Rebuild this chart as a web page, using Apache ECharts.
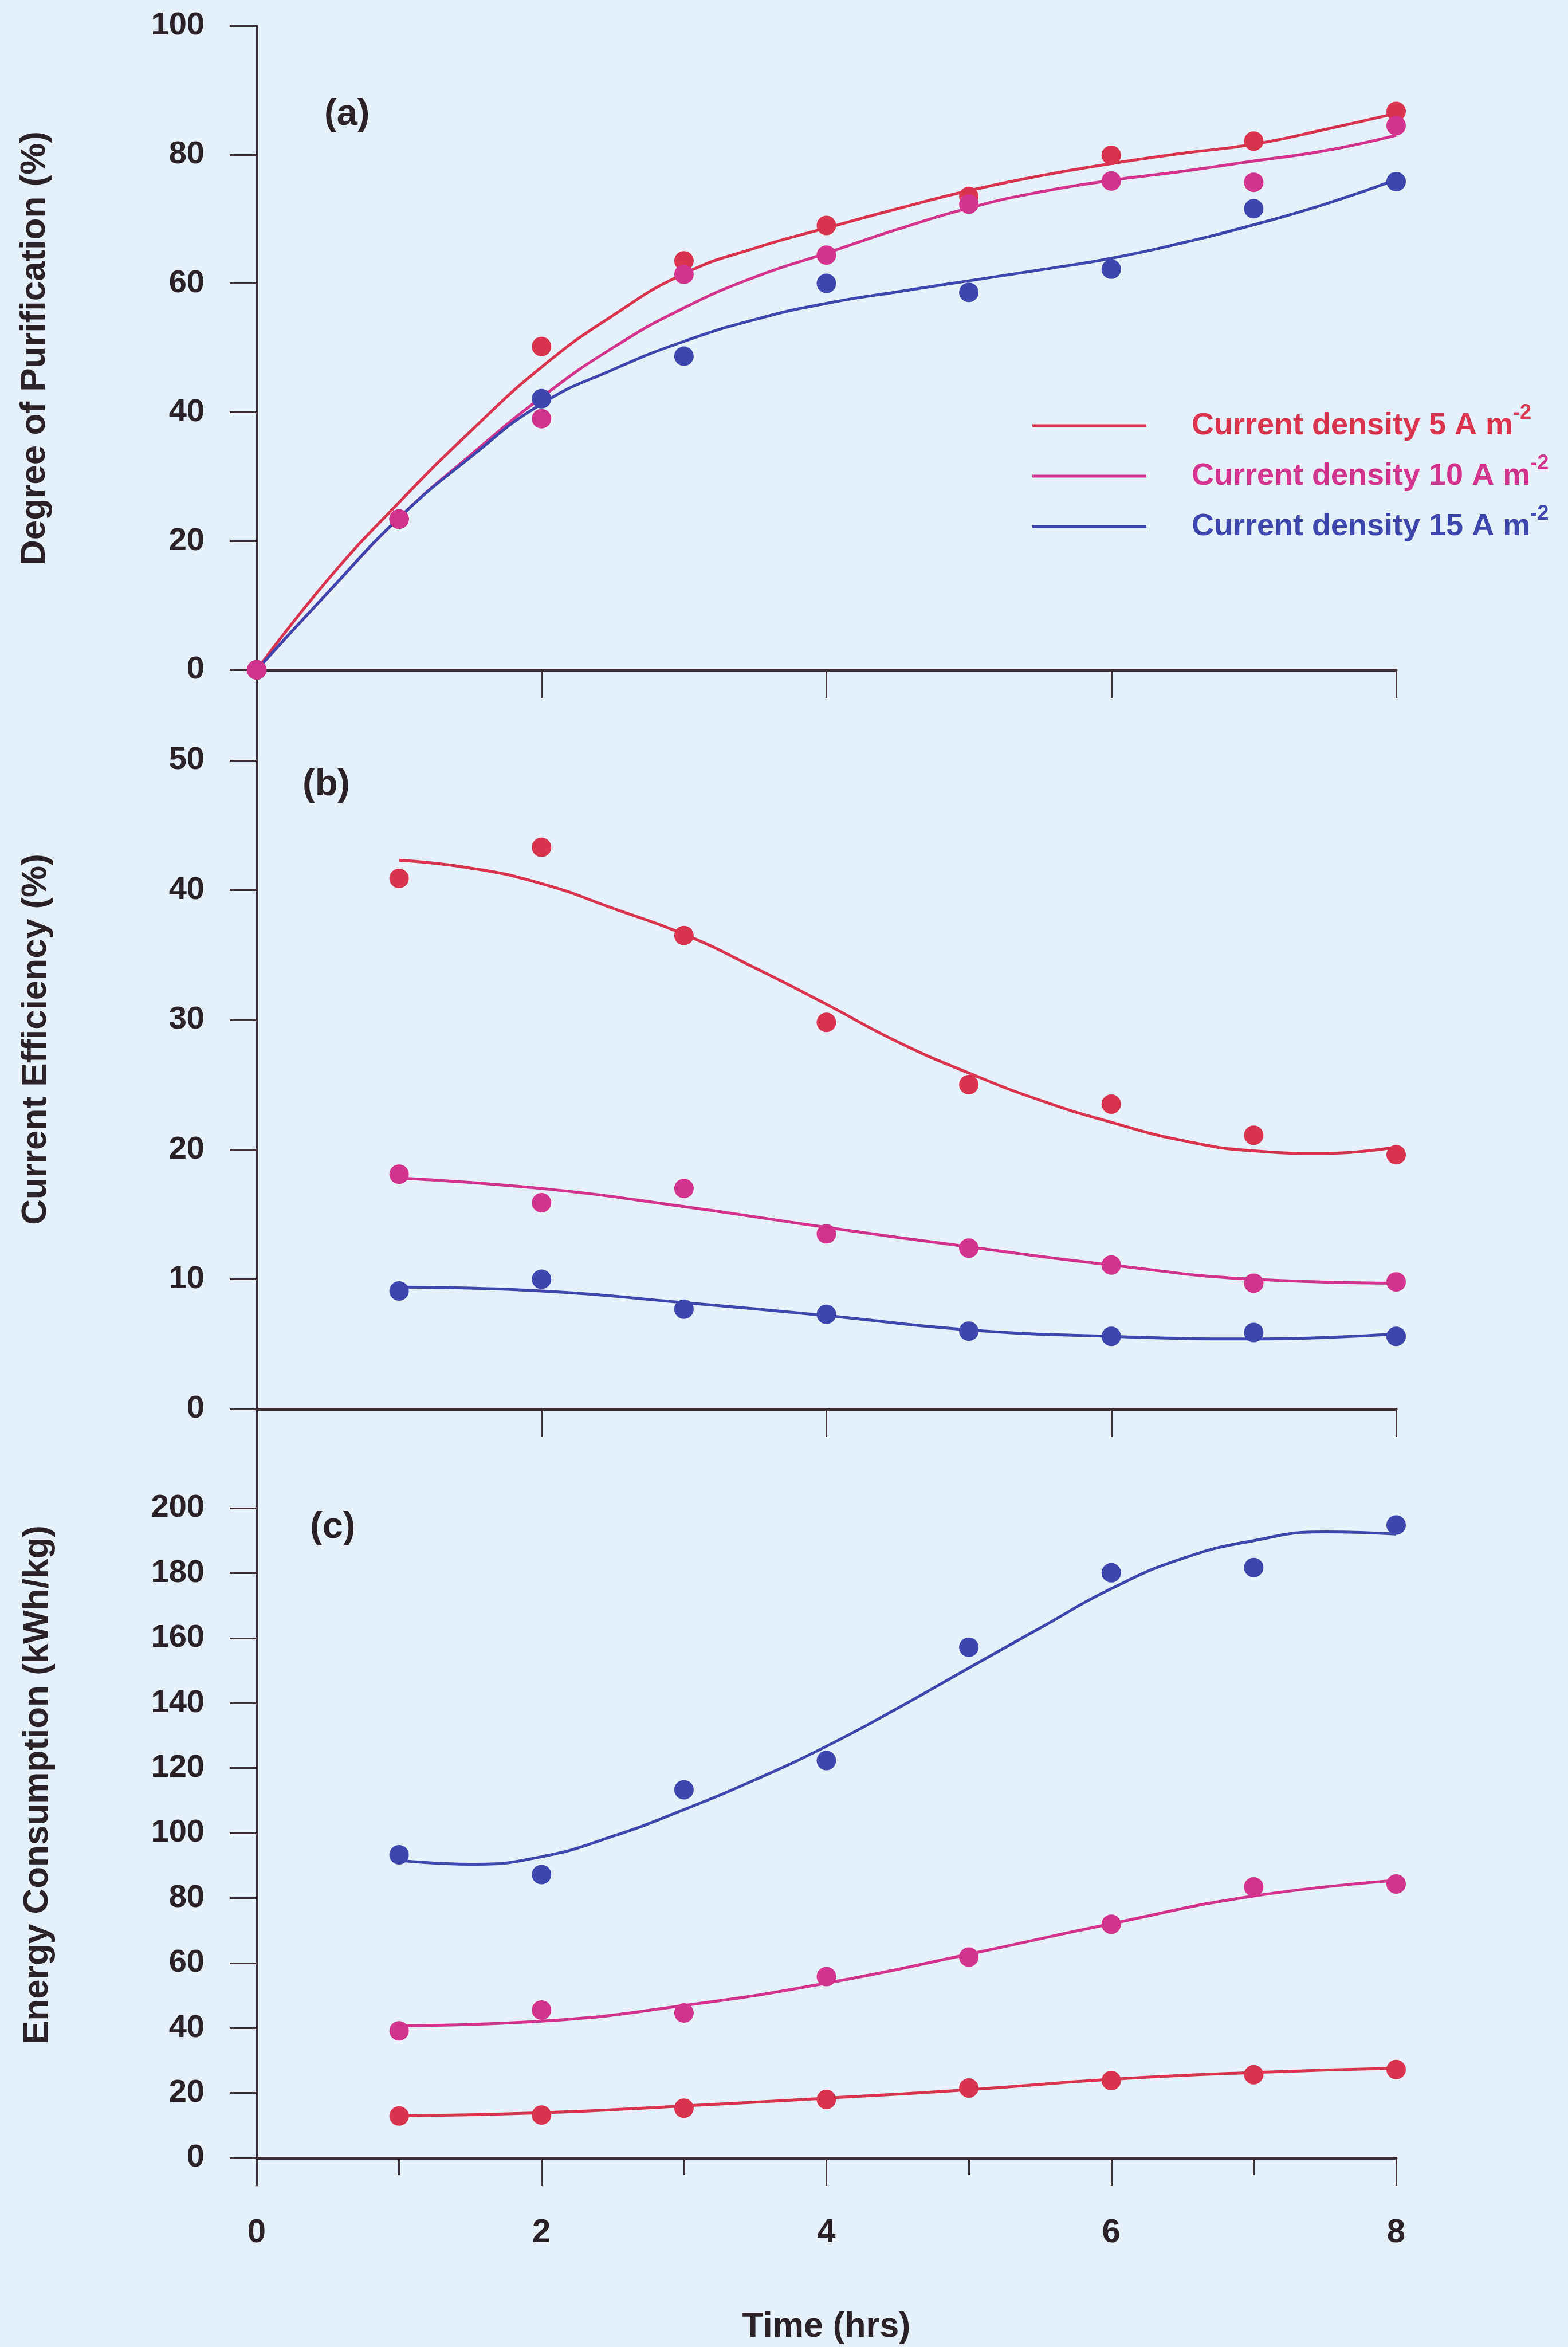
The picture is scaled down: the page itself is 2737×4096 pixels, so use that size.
<!DOCTYPE html>
<html>
<head>
<meta charset="utf-8">
<script src="https://cdn.jsdelivr.net/npm/echarts@6/dist/echarts.min.js"></script>
<style>
  html, body { margin: 0; padding: 0; background: #e6f0fa; }
  #chart { width: 2737px; height: 4096px; }
</style>
</head>
<body>
<div id="chart"></div>
<script>
// ---- Data ---------------------------------------------------------------
const densityNames = ['Current density 5 A m-2', 'Current density 10 A m-2', 'Current density 15 A m-2'];

// sampling times (hrs)
const timeA = [0, 1, 2, 3, 4, 5, 6, 7, 8];
const timeBC = [1, 2, 3, 4, 5, 6, 7, 8];

// (a) degree of purification (%) - measured
const purif5 = [0, 23.4, 50.2, 63.5, 69.0, 73.5, 79.9, 82.1, 86.7];
const purif10 = [0, 23.4, 39.0, 61.4, 64.4, 72.3, 75.9, 75.7, 84.5];
const purif15 = [0, 23.4, 42.1, 48.7, 60.0, 58.6, 62.2, 71.6, 75.8];

// (a) fitted curves
const fitTimeA = [0, 0.5, 1, 1.5, 2, 2.5, 3, 3.5, 4, 4.5, 5, 5.5, 6, 6.5, 7, 7.5, 8];
const purifFit5 = [0, 14.0, 26.0, 37.0, 47.0, 55.0, 61.5, 65.5, 68.6, 71.6, 74.4, 76.7, 78.6, 80.2, 81.6, 83.9, 86.4];
const purifFit10 = [0, 12.0, 23.6, 33.3, 42.3, 50.0, 56.2, 61.0, 64.7, 68.4, 71.7, 74.2, 76.0, 77.4, 79.0, 80.6, 83.0];
const purifFit15 = [0, 12.0, 23.6, 33.0, 41.3, 46.6, 51.0, 54.4, 56.9, 58.7, 60.4, 62.1, 63.9, 66.3, 69.1, 72.3, 76.1];

// (b) current efficiency (%) - measured
const eff5 = [40.9, 43.3, 36.5, 29.8, 25.0, 23.5, 21.1, 19.6];
const eff10 = [18.1, 15.9, 17.0, 13.5, 12.4, 11.1, 9.7, 9.8];
const eff15 = [9.1, 10.0, 7.7, 7.3, 6.0, 5.6, 5.9, 5.6];

// (b) fitted curves
const fitTimeHalf = [1, 1.5, 2, 2.5, 3, 3.5, 4, 4.5, 5, 5.5, 6, 6.5, 7, 7.5, 8];
const effFit5 = [42.3, 41.7, 40.5, 38.6, 36.6, 34.0, 31.2, 28.3, 25.9, 23.8, 22.1, 20.7, 19.9, 19.7, 20.2];
const effFit10 = [17.8, 17.0, 15.6, 14.0, 12.5, 11.1, 10.0, 9.7];
const effFit15 = [9.4, 9.1, 8.2, 7.2, 6.1, 5.6, 5.4, 5.8];

// (c) energy consumption (kWh/kg) - measured
const energy5 = [12.9, 13.2, 15.3, 18.0, 21.5, 23.8, 25.6, 27.2];
const energy10 = [39.1, 45.5, 44.6, 55.8, 61.8, 71.9, 83.4, 84.3];
const energy15 = [93.3, 87.2, 113.3, 122.3, 157.2, 180.1, 181.7, 194.8];

// (c) fitted curves
const energyFit5 = [12.9, 13.9, 16.0, 18.4, 21.0, 24.2, 26.3, 27.6];
const energyFit10 = [40.7, 42.1, 46.9, 53.8, 62.7, 72.1, 80.6, 85.4];
const energyFit15 = [91.6, 90.4, 92.7, 99.0, 107.2, 116.4, 126.7, 138.4, 150.8, 163.1, 175.2, 184.5, 190.0, 192.7, 192.0];

// axis ticks
const ticksA = [0, 20, 40, 60, 80, 100];
const ticksB = [0, 10, 20, 30, 40, 50];
const ticksC = [0, 20, 40, 60, 80, 100, 120, 140, 160, 180, 200];

// ---- Styling / layout ---------------------------------------------------
const FONT = '"Liberation Sans", Arial, Helvetica, sans-serif';
const INK = '#2a2226';
const AXIS = '#3b2f35';
const COLORS = ['#d8334f', '#d2338f', '#3e45ad'];

const PLOT_LEFT = 448;
const PLOT_WIDTH = 1989;
// each panel: top edge (= max tick), pixel of zero, bottom edge of its axis spine
const panels = [
  { top: 45, zero: 1169, bottom: 1327, max: 100, ticks: ticksA },
  { top: 1327, zero: 2459, bottom: 2632, max: 50, ticks: ticksB },
  { top: 2632, zero: 3766, bottom: 3813, max: 200, ticks: ticksC }
];

const pairs = (xs, ys) => xs.map((x, i) => [x, ys[i]]);

const grids = panels.map(p => ({
  left: PLOT_LEFT, width: PLOT_WIDTH, top: p.top, height: p.bottom - p.top,
  containLabel: false, outerBoundsMode: 'none'
}));

const yAxes = panels.map((p, i) => ({
  type: 'value', gridIndex: i,
  max: p.max,
  // spine continues below zero down to the next panel
  min: -p.max * (p.bottom - p.zero) / (p.zero - p.top),
  axisLine: { show: true, lineStyle: { color: AXIS, width: 3 } },
  axisTick: { show: true, length: 47, customValues: p.ticks, lineStyle: { color: AXIS, width: 3 } },
  axisLabel: {
    customValues: p.ticks, margin: 91, fontSize: 56, fontWeight: 'bold',
    fontFamily: FONT, color: INK
  },
  splitLine: { show: false }
}));

const xAxes = panels.map((p, i) => ({
  type: 'value', gridIndex: i, min: 0, max: 8, interval: 2,
  axisLine: { show: true, onZero: true, lineStyle: { color: AXIS, width: 5 } },
  axisTick: { show: true, length: 49, lineStyle: { color: AXIS, width: 3 } },
  minorTick: { show: i === 2, splitNumber: 2, length: 30, lineStyle: { color: AXIS, width: 3 } },
  axisLabel: {
    show: i === 2, margin: 55, fontSize: 58, fontWeight: 'bold',
    fontFamily: FONT, color: INK
  },
  splitLine: { show: false },
  minorSplitLine: { show: false },
  name: i === 2 ? 'Time (hrs)' : '',
  nameLocation: 'middle', nameGap: 218, nameMoveOverlap: false,
  nameTextStyle: { fontSize: 61, fontWeight: 'bold', fontFamily: FONT, color: INK }
}));

function curve(name, gridIdx, color, xs, ys) {
  return {
    name, type: 'line', xAxisIndex: gridIdx, yAxisIndex: gridIdx,
    data: pairs(xs, ys), smooth: 0.5, showSymbol: false, symbol: 'none',
    lineStyle: { color, width: 5 }, itemStyle: { color }, z: 2
  };
}
function dots(name, gridIdx, color, xs, ys) {
  return {
    name, type: 'scatter', xAxisIndex: gridIdx, yAxisIndex: gridIdx,
    data: pairs(xs, ys), symbol: 'circle', symbolSize: 34,
    itemStyle: { color, opacity: 1 }, z: 3
  };
}

const series = [
  // (a)
  curve(densityNames[0], 0, COLORS[0], fitTimeA, purifFit5),
  curve(densityNames[1], 0, COLORS[1], fitTimeA, purifFit10),
  curve(densityNames[2], 0, COLORS[2], fitTimeA, purifFit15),
  dots('a15', 0, COLORS[2], timeA, purif15),
  dots('a5', 0, COLORS[0], timeA, purif5),
  dots('a10', 0, COLORS[1], timeA, purif10),
  // (b)
  curve(densityNames[0], 1, COLORS[0], fitTimeHalf, effFit5),
  curve(densityNames[1], 1, COLORS[1], timeBC, effFit10),
  curve(densityNames[2], 1, COLORS[2], timeBC, effFit15),
  dots('b5', 1, COLORS[0], timeBC, eff5),
  dots('b10', 1, COLORS[1], timeBC, eff10),
  dots('b15', 1, COLORS[2], timeBC, eff15),
  // (c)
  curve(densityNames[0], 2, COLORS[0], timeBC, energyFit5),
  curve(densityNames[1], 2, COLORS[1], timeBC, energyFit10),
  curve(densityNames[2], 2, COLORS[2], fitTimeHalf, energyFit15),
  dots('c5', 2, COLORS[0], timeBC, energy5),
  dots('c10', 2, COLORS[1], timeBC, energy10),
  dots('c15', 2, COLORS[2], timeBC, energy15)
];

const panelTitle = (text, left, top) => ({
  text, left, top, padding: 0,
  textStyle: { fontSize: 65, fontWeight: 'bold', fontFamily: FONT, color: INK }
});

const axisTitle = (text, x, y) => ({
  type: 'text', x, y, rotation: Math.PI / 2, silent: true,
  style: {
    text, fill: INK, align: 'center', verticalAlign: 'middle',
    fontSize: 62, fontWeight: 'bold', fontFamily: FONT
  }
});

const option = {
  backgroundColor: '#e6f0fa',
  animation: false,
  grid: grids,
  xAxis: xAxes,
  yAxis: yAxes,
  series,
  title: [
    panelTitle('(a)', 566, 168),
    panelTitle('(b)', 528, 1338),
    panelTitle('(c)', 541, 2634)
  ],
  graphic: [
    axisTitle('Degree of Purification (%)', 61, 608),
    axisTitle('Current Efficiency (%)', 63, 1814),
    axisTitle('Energy Consumption (kWh/kg)', 66, 3115)
  ],
  legend: {
    data: densityNames.map((n, i) => ({ name: n, textStyle: { color: COLORS[i] } })),
    orient: 'vertical', left: 1802, top: 703, padding: 0,
    itemWidth: 199, itemHeight: 5, itemGap: 21, icon: 'rect',
    selectedMode: false,
    formatter: n => '{t|' + n.slice(0, -2) + '}{s|' + n.slice(-2) + '}',
    textStyle: {
      fontFamily: FONT, fontWeight: 'bold', fontSize: 54,
      rich: {
        t: { fontSize: 54, lineHeight: 80, padding: [0, 0, 0, 74], fontWeight: 'bold', fontFamily: FONT },
        s: { fontSize: 36, lineHeight: 36, verticalAlign: 'top', fontWeight: 'bold', fontFamily: FONT }
      }
    }
  }
};

const chart = echarts.init(document.getElementById('chart'), null, { renderer: 'canvas' });
chart.setOption(option);
</script>
</body>
</html>
